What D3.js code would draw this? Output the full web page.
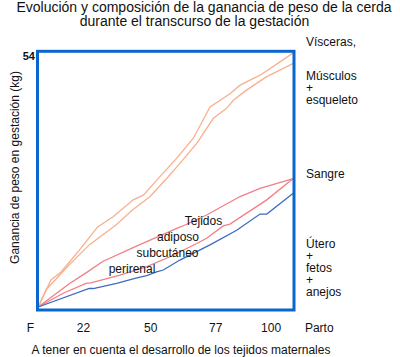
<!DOCTYPE html>
<html><head><meta charset="utf-8">
<script src="https://cdn.jsdelivr.net/npm/d3@7"></script>
<style>
body{margin:0;background:#fff}
svg{display:block}
text{font-family:"Liberation Sans",Arial,sans-serif;fill:#111}
</style>
</head><body>
<svg id="c" width="400" height="357"></svg>
<script>
// Data: [day of gestation, kg of weight gain]
const viscerasSup = [[3.2,0],[8.5,5.7],[12.7,7.4],[20.3,12.0],[23.1,13.8],[27.9,16.9],[34.2,19.0],[42.7,22.6],[46.9,23.6],[53.8,27.5],[60.8,31.4],[67.7,35.6],[74.6,42.2],[82.9,45.0],[87.1,46.8],[95.4,48.9],[103.7,51.7],[109.2,53.6]];
const viscerasInf = [[3.2,0],[6.4,3.6],[16.1,8.9],[24.4,13.1],[35.5,17.3],[42.5,20.5],[49.7,23.3],[56.6,27.1],[62.1,30.3],[69.1,34.5],[76.0,39.8],[81.5,41.9],[84.3,43.6],[89.9,45.8],[98.2,48.6],[109.2,51.4]];
const sangreSup = [[3.2,0],[16.1,4.9],[23.4,7.3],[30.0,9.6],[43.8,12.8],[48.3,13.8],[60.8,16.6],[64.2,17.3],[73.2,19.4],[87.1,23.3],[95.4,25.0],[109.2,27.1]];
const sangreInf = [[3.2,0],[13.6,2.9],[23.1,5.0],[25.1,5.1],[37.2,6.7],[43.8,7.8],[48.3,8.5],[58.0,10.6],[69.1,13.4],[73.2,14.5],[80.1,17.1],[82.9,17.5],[98.2,22.6],[109.2,27.1]];
const utero = [[3.2,0],[24.4,3.9],[26.1,3.9],[35.8,5.0],[43.8,6.1],[48.3,6.6],[52.4,7.4],[55.2,7.8],[62.1,9.9],[74.6,13.1],[85.7,16.2],[95.4,19.6],[98.2,19.6],[109.2,24.0]];

const tickDays = [0,22,50,77,100,120];
const tickLabels = ["F","22","50","77","100","Parto"];
const yMaxLabel = 54;

const titleLines = ["Evolución y composición de la ganancia de peso de la cerda","durante el transcurso de la gestación"];
const yTitle = "Ganancia de peso en gestación (kg)";
const xTitle = "A tener en cuenta el desarrollo de los tejidos maternales";
const rightLabels = [["Vísceras,"],["Músculos","+","esqueleto"],["Sangre"],["Útero","+","fetos","+","anejos"]];
const innerLabels = ["Tejidos","adiposo","subcutáneo","perirenal"];

const svg = d3.select("#c");
const x = d3.scaleLinear().domain([0,100]).range([30.5,271.1]);
const y = d3.scaleLinear().domain([0,54]).range([307,51]);

// title
svg.append("text").attr("x",204).attr("y",12).attr("text-anchor","middle").style("font-size","14px").text(titleLines[0]);
svg.append("text").attr("x",194.5).attr("y",26).attr("text-anchor","middle").style("font-size","14px").text(titleLines[1]);

// lines
const line = d3.line().x(d=>x(d[0])).y(d=>y(d[1]));
const series = [
  {d:viscerasSup,c:"#f9b08e"},
  {d:viscerasInf,c:"#f9b08e"},
  {d:sangreSup,c:"#f27f86"},
  {d:sangreInf,c:"#f27f86"},
  {d:utero,c:"#3d6cc0"}
];
svg.selectAll("path.s").data(series).join("path").attr("class","s")
  .attr("d",s=>line(s.d)).attr("fill","none").attr("stroke",s=>s.c).attr("stroke-width",1.3);

// frame
svg.append("rect").attr("x",37.5).attr("y",51.3).attr("width",256.5).attr("height",258.7)
  .attr("fill","none").attr("stroke","#0a66cc").attr("stroke-width",3);

// x tick labels
svg.selectAll("text.xt").data(tickDays).join("text").attr("class","xt")
  .attr("x",(d,i)=>x(d)).attr("y",332).attr("text-anchor","middle").style("font-size","12px")
  .text((d,i)=>tickLabels[i]);

// y label 54
svg.append("text").attr("x",35).attr("y",y(yMaxLabel)+8.5).attr("text-anchor","end")
  .style("font-size","11px").style("font-weight","bold").text(yMaxLabel);

// y title
svg.append("text").attr("transform","translate(18.5,167.5) rotate(-90)").attr("text-anchor","middle")
  .style("font-size","12px").text(yTitle);

// x title
svg.append("text").attr("x",181).attr("y",354).attr("text-anchor","middle").style("font-size","12px").text(xTitle);

// right labels
const rightY = [46,80,178,248];
rightLabels.forEach((grp,gi)=>{
  grp.forEach((t,li)=>{
    svg.append("text").attr("x",306).attr("y",rightY[gi]+li*12).style("font-size","12px").text(t);
  });
});

// inner labels
const innerPos = [[203.5,225],[178,240.5],[167.5,256.7],[132,273.3]];
innerLabels.forEach((t,i)=>{
  svg.append("text").attr("x",innerPos[i][0]).attr("y",innerPos[i][1]).attr("text-anchor","middle")
    .style("font-size","12px").text(t);
});
</script>
</body></html>
